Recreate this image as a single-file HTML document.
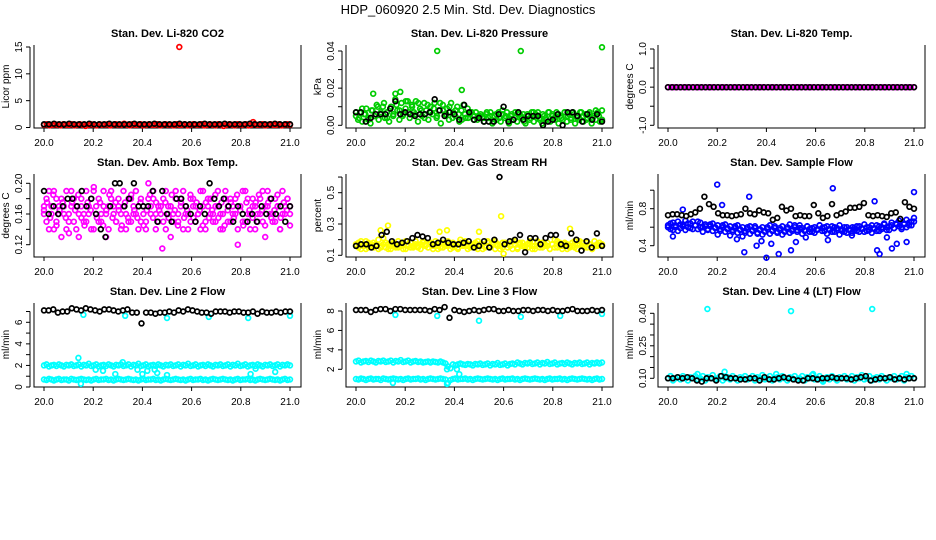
<!DOCTYPE html>
<html><head><meta charset="utf-8"><style>
html,body{margin:0;padding:0;background:#fff;}
svg{display:block;font-family:"Liberation Sans",sans-serif;}
</style></head><body>
<svg id="chart" width="936" height="540" viewBox="0 0 936 540" xmlns="http://www.w3.org/2000/svg">
<text x="468" y="14" text-anchor="middle" font-size="13">HDP_060920  2.5 Min. Std. Dev. Diagnostics</text>
</svg>
<script>
// ---- data ----
const xTickLabels = ["20.0","20.2","20.4","20.6","20.8","21.0"];
const xTicks = [20.0,20.2,20.4,20.6,20.8,21.0];
const panelTitles = ["Stan. Dev. Li-820 CO2","Stan. Dev. Li-820 Pressure","Stan. Dev. Li-820 Temp.","Stan. Dev. Amb. Box Temp.","Stan. Dev. Gas Stream RH","Stan. Dev. Sample Flow","Stan. Dev. Line 2 Flow","Stan. Dev. Line 3 Flow","Stan. Dev. Line 4 (LT) Flow"];
const yLabels = ["Licor ppm","kPa","degrees C","degrees C","percent","ml/min","ml/min","ml/min","ml/min"];
const yTicks = [[0,5,10,15],[0,0.01,0.02,0.03,0.04],[-1,-0.5,0,0.5,1],[0.12,0.14,0.16,0.18,0.20],[0.1,0.2,0.3,0.4,0.5,0.6],[0.4,0.6,0.8,1.0],[0,1,2,3,4,5,6,7],[2,4,6,8],[0.10,0.15,0.20,0.25,0.30,0.35,0.40]];
const yTickLabels = [["0","5","10","15"],["0.00","","0.02","","0.04"],["-1.0","","0.0","","1.0"],["0.12","","0.16","","0.20"],["0.1","","0.3","","0.5",""],["0.4","","0.8",""],["0","","2","","4","","6",""],["2","4","6","8"],["0.10","","","0.25","","","0.40"]];

const co2Red = [0.5,0.6,0.4,0.5,0.6,0.5,0.4,0.6,0.5,0.5,0.6,0.4,0.5,0.6,0.5,0.3,0.5,0.6,0.5,0.4,0.6,0.5,0.5,0.6,0.4,0.5,0.6,0.5,0.5,0.7,0.5,0.4,0.6,0.5,0.5,0.6,0.4,0.5,0.6,0.5,0.5,0.6,0.4,0.5,0.6,0.5,0.5,0.4,0.6,0.5,0.5,0.6,0.4,0.5,0.6,0.5,0.5,0.6,0.4,0.5,0.6,0.5,0.4,0.6,0.5,0.3,0.5,0.6,0.5,0.4,0.6,0.5,0.5,0.6,0.4,0.5,0.6,0.5,0.5,0.6,0.4,0.5,0.6,0.5,0.5,0.6,0.4,0.5,0.6,0.5];
const co2Black = [0.6,0.6,0.7,0.6,0.6,0.7,0.6,0.6,0.6,0.7,0.6,0.6,0.6,0.7,0.6,0.6,0.6,0.6,0.7,0.6,0.6,0.6,0.7,0.6,0.6,0.6,0.6,0.7,0.6,0.6,0.6,0.6,0.7,0.6,0.6,0.6,0.7,0.6,0.6,0.6,0.6,0.7,0.6,0.6,0.6,0.6,0.7,0.6,0.6,0.6];
const co2OutX = [20.55,20.85];
const co2OutY = [15.0,1.0];

const presGreen = [0.005,0.003,0.007,0.002,0.006,0.009,0.004,0.001,0.008,0.005,0.011,0.003,0.006,0.010,0.004,0.007,0.002,0.010,0.005,0.014,0.008,0.003,0.012,0.006,0.009,0.013,0.004,0.011,0.007,0.013,0.002,0.009,0.005,0.012,0.008,0.003,0.010,0.006,0.012,0.004,0.008,0.001,0.011,0.006,0.009,0.003,0.012,0.007,0.005,0.010,0.002,0.008,0.011,0.004,0.009,0.006,0.007,0.003,0.007,0.005,0.005,0.004,0.002,0.006,0.004,0.007,0.001,0.005,0.003,0.007,0.002,0.006,0.004,0.007,0.001,0.005,0.003,0.007,0.002,0.006,0.004,0.006,0.001,0.005,0.003,0.007,0.002,0.006,0.007,0.004,0.001,0.005,0.003,0.007,0.002,0.006,0.004,0.007,0.001,0.005,0.003,0.007,0.002,0.006,0.004,0.007,0.001,0.005,0.003,0.007,0.002,0.006,0.004,0.007,0.001,0.005,0.003,0.007,0.002,0.008];
const presGreen2 = [0.007,0.004,0.009,0.006,0.003,0.008,0.005,0.010,0.007,0.012,0.004,0.009,0.006,0.011,0.008,0.005,0.013,0.007,0.010,0.006,0.012,0.008,0.004,0.011,0.007,0.009,0.005,0.012,0.008,0.006,0.010,0.004,0.008,0.006,0.003,0.006,0.004,0.007,0.005,0.003,0.006,0.004,0.007,0.005,0.002,0.006,0.004,0.008,0.005,0.003,0.006,0.004,0.007,0.005,0.002,0.006,0.004,0.007,0.005,0.003,0.006,0.004,0.007,0.005,0.003,0.006,0.004,0.007,0.005,0.003,0.006,0.004,0.007,0.005,0.003,0.006,0.004,0.008,0.005,0.003];
const presBlack = [0.007,0.007,0.002,0.004,0.006,0.006,0.006,0.009,0.013,0.006,0.007,0.006,0.005,0.006,0.006,0.007,0.014,0.008,0.005,0.007,0.006,0.003,0.011,0.007,0.003,0.004,0.002,0.002,0.002,0.006,0.010,0.002,0.003,0.007,0.003,0.005,0.005,0.005,0.000,0.002,0.003,0.006,0.000,0.007,0.007,0.005,0.002,0.006,0.003,0.006,0.002];
const presOutX = [20.33,20.67,21.0,20.07,20.43,20.16,20.18];
const presOutY = [0.040,0.040,0.042,0.017,0.019,0.017,0.018];

const tempMagenta = [0,0,0,0,0,0,0,0,0,0,0,0,0,0,0,0,0,0,0,0,0,0,0,0,0,0,0,0,0,0,0,0,0,0,0,0,0,0,0,0,0,0,0,0,0,0,0,0,0,0,0,0,0,0,0,0,0,0,0,0,0,0,0,0,0,0,0,0,0,0,0,0,0,0,0,0,0,0,0,0];
const tempBlack = [0,0,0,0,0,0,0,0,0,0,0,0,0,0,0,0,0,0,0,0,0,0,0,0,0,0,0,0,0,0,0,0,0,0,0,0,0,0,0,0,0,0,0,0,0,0,0,0,0,0,0,0,0,0,0,0,0,0,0,0];

const ambMagA = [0.17,0.15,0.19,0.16,0.14,0.18,0.17,0.13,0.16,0.19,0.15,0.17,0.18,0.14,0.16,0.17,0.15,0.19,0.16,0.18,0.14,0.17,0.15,0.16,0.19,0.13,0.17,0.18,0.16,0.15,0.17,0.14,0.19,0.16,0.18,0.15,0.17,0.16,0.14,0.18,0.17,0.15,0.20,0.16,0.18,0.14,0.17,0.16,0.15,0.19,0.17,0.13,0.16,0.18,0.15,0.17,0.19,0.16,0.14,0.18,0.17,0.15,0.16,0.19,0.17,0.14,0.18,0.16,0.15,0.17,0.19,0.16,0.14,0.18,0.17,0.15,0.16,0.18,0.12,0.17,0.15,0.19,0.16,0.14,0.18,0.17,0.15,0.16,0.19,0.13,0.17,0.18,0.16,0.15,0.17,0.14,0.19,0.16,0.18,0.17];
const ambMagB = [0.16,0.18,0.14,0.17,0.19,0.15,0.16,0.18,0.17,0.14,0.16,0.19,0.15,0.17,0.13,0.18,0.16,0.15,0.17,0.14,0.19,0.16,0.18,0.15,0.17,0.16,0.14,0.19,0.17,0.15,0.18,0.16,0.17,0.14,0.15,0.18,0.16,0.19,0.17,0.15,0.16,0.14,0.18,0.17,0.19,0.16,0.15,0.17,0.18,0.14,0.16,0.17,0.15,0.19,0.16,0.18,0.14,0.17,0.16,0.15,0.18,0.17,0.16,0.14,0.19,0.15,0.17,0.18,0.16,0.15,0.17,0.14,0.16,0.19,0.15,0.18,0.17,0.16,0.14,0.17,0.19,0.15,0.18,0.16,0.17,0.14,0.16,0.18,0.15,0.17,0.19,0.16,0.15,0.18,0.17,0.14,0.16,0.17,0.18,0.16];
const ambMagC = [0.165,0.175,0.155,0.185,0.145,0.165,0.175,0.155,0.135,0.175,0.165,0.185,0.155,0.145,0.175,0.165,0.195,0.155,0.175,0.145,0.165,0.185,0.155,0.175,0.165,0.145,0.175,0.155,0.185,0.165,0.155,0.175,0.145,0.165,0.185,0.155,0.175,0.165,0.115,0.175,0.155,0.185,0.165,0.145,0.175,0.155,0.165,0.185,0.155,0.175,0.165,0.145,0.175,0.155,0.165,0.185,0.155,0.175,0.145,0.165,0.175,0.155,0.185,0.165,0.145,0.175,0.165,0.155,0.175,0.185,0.165,0.145,0.175,0.155,0.165,0.185,0.155,0.175,0.165,0.145];
const ambBlack = [0.19,0.16,0.17,0.16,0.17,0.18,0.18,0.17,0.19,0.17,0.18,0.16,0.14,0.13,0.17,0.20,0.20,0.17,0.18,0.20,0.17,0.17,0.17,0.19,0.15,0.19,0.16,0.15,0.18,0.18,0.17,0.16,0.15,0.17,0.16,0.20,0.18,0.17,0.18,0.17,0.15,0.17,0.16,0.15,0.16,0.15,0.17,0.16,0.18,0.16,0.17,0.15,0.17];

const rhYelA = [0.17,0.15,0.19,0.16,0.14,0.18,0.17,0.15,0.16,0.20,0.15,0.17,0.18,0.14,0.16,0.17,0.15,0.19,0.16,0.18,0.14,0.17,0.15,0.16,0.19,0.15,0.17,0.18,0.16,0.15,0.17,0.14,0.19,0.16,0.18,0.15,0.17,0.16,0.14,0.18,0.17,0.15,0.20,0.16,0.18,0.14,0.17,0.16,0.15,0.19,0.17,0.14,0.16,0.18,0.15,0.17,0.19,0.16,0.14,0.18,0.17,0.15,0.16,0.19,0.17,0.14,0.18,0.16,0.15,0.17,0.19,0.16,0.14,0.18,0.17,0.15,0.16,0.18,0.14,0.17,0.15,0.19,0.16,0.14,0.18,0.17,0.15,0.16,0.19,0.14,0.17,0.18,0.16,0.15,0.17,0.14,0.19,0.16,0.18,0.17];
const rhYelB = [0.16,0.18,0.14,0.17,0.19,0.15,0.16,0.18,0.17,0.14,0.16,0.21,0.15,0.17,0.14,0.18,0.16,0.15,0.17,0.14,0.19,0.16,0.18,0.15,0.17,0.16,0.14,0.19,0.17,0.15,0.18,0.16,0.17,0.14,0.15,0.18,0.16,0.19,0.17,0.15,0.16,0.14,0.18,0.17,0.19,0.16,0.15,0.17,0.18,0.14,0.16,0.17,0.15,0.19,0.16,0.18,0.14,0.17,0.16,0.15,0.18,0.17,0.16,0.14,0.19,0.15,0.17,0.18,0.16,0.15,0.17,0.14,0.16,0.19,0.15,0.18,0.17,0.16,0.14,0.17,0.20,0.15,0.18,0.16,0.17,0.14,0.16,0.18,0.15,0.17,0.19,0.16,0.15,0.18,0.17,0.14,0.16,0.17,0.18,0.16];
const rhBlack = [0.16,0.17,0.17,0.15,0.16,0.23,0.25,0.19,0.17,0.18,0.19,0.21,0.23,0.22,0.21,0.17,0.18,0.20,0.18,0.17,0.17,0.18,0.19,0.15,0.16,0.19,0.15,0.20,0.60,0.17,0.19,0.20,0.23,0.12,0.21,0.21,0.17,0.21,0.23,0.23,0.17,0.16,0.24,0.20,0.13,0.19,0.15,0.24,0.16];
const rhOutX = [20.59,20.13,20.10,20.37,20.87,20.60,20.34,20.50];
const rhOutY = [0.35,0.29,0.26,0.26,0.27,0.11,0.25,0.25];

const flowBlueA = [0.62,0.58,0.65,0.60,0.56,0.63,0.61,0.57,0.64,0.59,0.66,0.62,0.58,0.65,0.60,0.63,0.57,0.61,0.64,0.59,0.62,0.56,0.60,0.63,0.58,0.61,0.55,0.59,0.62,0.57,0.60,0.54,0.58,0.61,0.56,0.59,0.53,0.57,0.60,0.55,0.58,0.62,0.56,0.59,0.54,0.57,0.61,0.55,0.58,0.63,0.56,0.60,0.57,0.62,0.59,0.56,0.61,0.58,0.55,0.60,0.57,0.62,0.59,0.56,0.61,0.58,0.55,0.60,0.57,0.62,0.58,0.55,0.60,0.57,0.54,0.59,0.56,0.61,0.58,0.55,0.60,0.57,0.62,0.59,0.56,0.61,0.58,0.63,0.60,0.57,0.62,0.59,0.64,0.61,0.58,0.63,0.60,0.65,0.62,0.66];
const flowBlueB = [0.60,0.64,0.57,0.62,0.66,0.59,0.63,0.67,0.60,0.64,0.58,0.62,0.66,0.60,0.55,0.61,0.58,0.63,0.56,0.60,0.52,0.58,0.62,0.55,0.59,0.51,0.57,0.61,0.54,0.58,0.50,0.56,0.60,0.53,0.57,0.61,0.54,0.58,0.52,0.56,0.60,0.53,0.57,0.61,0.55,0.59,0.52,0.56,0.60,0.54,0.58,0.62,0.55,0.59,0.53,0.57,0.61,0.55,0.59,0.54,0.58,0.62,0.56,0.60,0.53,0.57,0.61,0.55,0.59,0.52,0.56,0.60,0.54,0.58,0.51,0.57,0.61,0.55,0.59,0.63,0.56,0.60,0.54,0.58,0.62,0.56,0.60,0.64,0.57,0.61,0.65,0.59,0.63,0.67,0.60,0.64,0.68,0.62,0.66,0.70];
const flowOutX = [20.20,20.33,20.67,20.84,21.0,20.22,20.31,20.40,20.45,20.50,20.36,20.42,20.52,20.85,20.86,20.91,20.06,20.02,20.97,20.89,20.56,20.65,20.75,20.93,20.28,20.38];
const flowOutY = [1.06,0.93,1.02,0.88,0.98,0.84,0.33,0.27,0.31,0.35,0.40,0.42,0.44,0.35,0.31,0.37,0.79,0.50,0.44,0.49,0.49,0.46,0.60,0.42,0.47,0.45];
const flowBlack = [0.73,0.74,0.74,0.73,0.72,0.74,0.76,0.80,0.93,0.85,0.82,0.75,0.73,0.73,0.72,0.73,0.74,0.80,0.75,0.74,0.78,0.76,0.75,0.68,0.70,0.82,0.78,0.80,0.72,0.73,0.72,0.72,0.84,0.75,0.70,0.72,0.85,0.73,0.75,0.77,0.81,0.81,0.82,0.86,0.73,0.72,0.73,0.72,0.71,0.75,0.76,0.69,0.87,0.82,0.80];

const l2CyanHi = [2.0,2.1,1.9,2.0,2.05,1.95,2.1,2.0,1.9,2.05,2.0,2.1,1.95,2.0,2.1,1.9,2.05,2.0,2.15,1.95,2.0,2.1,1.9,2.0,2.05,1.95,2.1,2.0,1.9,2.05,2.0,2.1,1.95,2.0,2.1,1.9,2.05,2.0,2.15,1.95,2.0,2.1,1.9,2.0,2.05,1.95,2.1,2.0,1.9,2.05,2.0,2.1,1.95,2.0,2.1,1.9,2.05,2.0,2.15,1.95,2.0,2.1,1.9,2.0,2.05,1.95,2.1,2.0,1.9,2.05,2.0,2.1,1.95,2.0,2.1,1.9,2.05,2.0,2.15,1.95,2.0,2.1,1.9,2.0,2.05,1.95,2.1,2.0,1.9,2.05,2.0,2.1,1.95,2.0,2.1,1.9,2.05,2.0,2.1,2.0];
const l2CyanLo = [0.7,0.65,0.75,0.7,0.6,0.7,0.75,0.65,0.7,0.7,0.6,0.75,0.7,0.65,0.7,0.75,0.7,0.65,0.7,0.6,0.7,0.75,0.65,0.7,0.7,0.75,0.65,0.7,0.6,0.7,0.75,0.7,0.65,0.7,0.75,0.7,0.65,0.7,0.6,0.7,0.75,0.65,0.7,0.7,0.75,0.65,0.7,0.6,0.7,0.75,0.7,0.65,0.7,0.75,0.7,0.65,0.7,0.6,0.7,0.75,0.65,0.7,0.7,0.75,0.65,0.7,0.6,0.7,0.75,0.7,0.65,0.7,0.75,0.7,0.65,0.7,0.6,0.7,0.75,0.65,0.7,0.7,0.75,0.65,0.7,0.6,0.7,0.75,0.7,0.65,0.7,0.75,0.7,0.65,0.7,0.6,0.7,0.75,0.65,0.7];
const l2CyanOutX = [20.16,20.33,20.50,20.67,20.83,21.0,20.14,20.21,20.24,20.29,20.32,20.38,20.42,20.45,20.46,20.84,20.86,20.94,20.40,20.50,20.15];
const l2CyanOutY = [6.7,6.6,6.4,6.5,6.4,6.6,2.7,1.6,1.5,1.2,2.3,1.6,1.5,1.6,1.3,1.2,1.7,1.4,1.2,1.1,0.3];
const l2Black = [7.1,7.1,7.2,6.9,7.0,7.0,7.3,7.2,7.1,7.3,7.2,7.1,7.0,7.2,7.2,7.1,7.0,7.1,7.2,6.9,6.9,5.9,6.9,6.9,6.8,6.9,6.9,7.0,6.9,7.1,7.0,7.2,7.1,7.0,6.9,6.9,6.8,7.0,7.0,7.0,6.9,7.0,7.0,6.9,6.9,7.0,6.8,7.0,6.9,6.9,7.0,6.9,7.0,7.0];

const l3CyanHi = [2.8,2.9,2.7,2.8,2.85,2.75,2.9,2.8,2.7,2.85,2.8,2.9,2.75,2.8,2.9,2.7,2.85,2.8,2.95,2.75,2.8,2.9,2.7,2.8,2.85,2.75,2.8,2.7,2.75,2.8,2.7,2.8,2.75,2.7,2.8,2.7,2.6,2.3,2.1,2.5,2.4,2.5,2.6,2.5,2.45,2.55,2.5,2.4,2.55,2.5,2.6,2.45,2.5,2.6,2.4,2.55,2.5,2.65,2.45,2.5,2.6,2.4,2.55,2.6,2.5,2.7,2.6,2.5,2.65,2.6,2.7,2.55,2.6,2.7,2.5,2.65,2.6,2.75,2.55,2.6,2.7,2.5,2.6,2.65,2.55,2.7,2.6,2.5,2.65,2.6,2.7,2.55,2.6,2.7,2.5,2.65,2.6,2.7,2.6,2.7];
const l3CyanLo = [1.0,0.95,1.05,1.0,0.9,1.0,1.05,0.95,1.0,1.0,0.9,1.05,1.0,0.95,1.0,1.05,1.0,0.95,1.0,0.9,1.0,1.05,0.95,1.0,1.0,1.05,0.95,1.0,0.9,1.0,1.05,1.0,0.95,1.0,1.05,1.0,0.95,0.6,0.9,1.0,1.05,0.95,1.0,1.0,1.05,0.95,1.0,0.9,1.0,1.05,1.0,0.95,1.0,1.05,1.0,0.95,1.0,0.9,1.0,1.05,0.95,1.0,1.0,1.05,0.95,1.0,0.9,1.0,1.05,1.0,0.95,1.0,1.05,1.0,0.95,1.0,0.9,1.0,1.05,0.95,1.0,1.0,1.05,0.95,1.0,0.9,1.0,1.05,1.0,0.95,1.0,1.05,1.0,0.95,1.0,0.9,1.0,1.05,0.95,1.0];
const l3CyanOutX = [20.16,20.33,20.50,20.67,20.83,21.0,20.37,20.41,20.42,20.15,20.37];
const l3CyanOutY = [7.6,7.5,7.0,7.4,7.5,7.7,2.0,2.0,1.5,0.6,0.5];
const l3Black = [8.1,8.1,8.1,7.9,8.1,8.2,8.2,8.0,8.2,8.2,8.1,8.1,8.1,8.1,8.1,8.0,8.2,8.1,8.4,7.3,8.1,8.0,7.9,8.0,8.1,8.0,8.1,8.2,8.2,8.0,8.0,8.1,8.0,8.0,8.1,8.1,8.0,8.1,8.1,8.0,8.1,8.0,8.0,8.1,8.2,8.0,8.0,8.0,8.1,8.0,8.1];

const l4Cyan = [0.10,0.11,0.09,0.10,0.105,0.095,0.11,0.10,0.09,0.105,0.10,0.11,0.095,0.10,0.11,0.09,0.105,0.10,0.115,0.095,0.10,0.11,0.09,0.10,0.105,0.095,0.11,0.10,0.09,0.105,0.10,0.11,0.095,0.10,0.11,0.09,0.105,0.10,0.115,0.095,0.10,0.11,0.09,0.10,0.105,0.095,0.11,0.10,0.09,0.105,0.10,0.11,0.095,0.10,0.11,0.09,0.105,0.10,0.115,0.095,0.10,0.11,0.09,0.10,0.105,0.095,0.11,0.10,0.09,0.105,0.10,0.11,0.095,0.10,0.11,0.09,0.105,0.10,0.115,0.095,0.10,0.11,0.09,0.10,0.105,0.095,0.11,0.10,0.09,0.105,0.10,0.11,0.095,0.10,0.11,0.09,0.105,0.10,0.11,0.10];
const l4CyanOutX = [20.16,20.50,20.83,20.23,20.12,20.44,20.59,20.63,20.97];
const l4CyanOutY = [0.42,0.41,0.42,0.13,0.12,0.12,0.12,0.085,0.12];
const l4Black = [0.10,0.10,0.105,0.10,0.105,0.10,0.09,0.085,0.10,0.10,0.09,0.11,0.105,0.10,0.10,0.095,0.095,0.10,0.10,0.09,0.105,0.095,0.095,0.10,0.105,0.10,0.095,0.09,0.09,0.10,0.10,0.095,0.10,0.10,0.105,0.10,0.10,0.10,0.095,0.10,0.105,0.11,0.09,0.095,0.10,0.10,0.105,0.095,0.10,0.095,0.10,0.10];

// ---- layout ----
const svg = document.getElementById('chart');
const NS = 'http://www.w3.org/2000/svg';
const colL = [34,346,658], rowT = [45,174,303], W = 267, H = 83;
const yRef = [[0,127.5,15,47],[0,125.3,0.04,51],[-1,125.3,1,49],[0.12,244.7,0.20,183.3],[0.1,255.3,0.5,192.7],[0.4,245.7,0.8,208.7],[0,387,6,322.3],[2,369.3,8,311],[0.10,378.3,0.40,313.3]];
function mk(tag, attrs, parent){const e=document.createElementNS(NS,tag);for(const k in attrs)e.setAttribute(k,attrs[k]);(parent||svg).appendChild(e);return e;}
function xS(p,v){return colL[p%3]+10+(v-20)*246;}
function yS(p,v){const r=yRef[p];return r[1]+(v-r[0])*(r[3]-r[1])/(r[2]-r[0]);}
function evenX(n){const a=[];for(let i=0;i<n;i++)a.push(20+i/(n-1));return a;}
function scatter(p,xs,ys,color,name,g){
  for(let i=0;i<ys.length;i++){
    const c=mk('circle',{cx:xS(p,xs[i]).toFixed(1),cy:yS(p,ys[i]).toFixed(1),r:2.4,fill:'none',stroke:color,'stroke-width':1.7},g);
    
    
  }
}
for(let p=0;p<9;p++){
  const L=colL[p%3], T=rowT[Math.floor(p/3)], B=T+H+(p>5?1:0);
  const g=mk('g',{});
  
  
  const t=mk('text',{x:L+W/2,y:T-8,'text-anchor':'middle','font-size':11,'font-weight':'bold'},g);
  t.textContent=panelTitles[p];
  
  
  const fr=mk('path',{d:`M${L},${T} L${L},${B} L${L+W},${B} L${L+W},${T}`,fill:'none',stroke:'#000','stroke-width':1},g);
  
  
  for(let i=0;i<xTicks.length;i++){
    const x=xS(p,xTicks[i]);
    mk('line',{x1:x,y1:B,x2:x,y2:B+4,stroke:'#000'},g);
    const tl=mk('text',{x:x,y:B+18,'text-anchor':'middle','font-size':10},g);
    tl.textContent=xTickLabels[i];
    
    
  }
  const tk=yTicks[p];
  mk('line',{x1:L-4,y1:yS(p,tk[0]),x2:L-4,y2:yS(p,tk[tk.length-1]),stroke:'#000'},g);
  for(let i=0;i<tk.length;i++){
    const y=yS(p,tk[i]);
    mk('line',{x1:L-8,y1:y,x2:L-4,y2:y,stroke:'#000'},g);
    if(yTickLabels[p][i]){
      const yl=mk('text',{x:0,y:0,'text-anchor':'middle','font-size':10,transform:`translate(${L-12},${y}) rotate(-90)`},g);
      yl.textContent=yTickLabels[p][i];
      
      
    }
  }
  const ya=mk('text',{x:0,y:0,'text-anchor':'middle','font-size':10,transform:`translate(${L-25},${T+H/2}) rotate(-90)`},g);
  ya.textContent=yLabels[p];
  
  
}
// ---- series ----
scatter(0,evenX(co2Red.length),co2Red,'#ff0000','co2-point');
scatter(0,co2OutX,co2OutY,'#ff0000','co2-outlier');
scatter(0,evenX(co2Black.length),co2Black,'#000','co2-black-point');
scatter(1,evenX(presGreen.length),presGreen,'#00cc00','pressure-point');
scatter(1,evenX(presGreen2.length),presGreen2,'#00cc00','pressure-point');
scatter(1,presOutX,presOutY,'#00cc00','pressure-outlier');
scatter(1,evenX(presBlack.length),presBlack,'#000','pressure-black-point');
scatter(2,evenX(tempMagenta.length),tempMagenta,'#ff00ff','temp-point');
scatter(2,evenX(tempBlack.length),tempBlack,'#000','temp-black-point');
scatter(3,evenX(ambMagA.length),ambMagA,'#ff00ff','amb-temp-point');
scatter(3,evenX(ambMagB.length),ambMagB,'#ff00ff','amb-temp-point');
scatter(3,evenX(ambMagC.length),ambMagC,'#ff00ff','amb-temp-point');
scatter(3,evenX(ambBlack.length),ambBlack,'#000','amb-temp-black-point');
scatter(4,evenX(rhYelA.length),rhYelA,'#ffff00','rh-point');
scatter(4,evenX(rhYelB.length),rhYelB,'#ffff00','rh-point');
scatter(4,rhOutX,rhOutY,'#ffff00','rh-outlier');
scatter(4,evenX(rhBlack.length),rhBlack,'#000','rh-black-point');
scatter(5,evenX(flowBlueA.length),flowBlueA,'#0000ff','sample-flow-point');
scatter(5,evenX(flowBlueB.length),flowBlueB,'#0000ff','sample-flow-point');
scatter(5,flowOutX,flowOutY,'#0000ff','sample-flow-outlier');
scatter(5,evenX(flowBlack.length),flowBlack,'#000','sample-flow-black-point');
scatter(6,evenX(l2CyanHi.length),l2CyanHi,'#00ffff','line2-point');
scatter(6,evenX(l2CyanLo.length),l2CyanLo,'#00ffff','line2-point');
scatter(6,l2CyanOutX,l2CyanOutY,'#00ffff','line2-outlier');
scatter(6,evenX(l2Black.length),l2Black,'#000','line2-black-point');
scatter(7,evenX(l3CyanHi.length),l3CyanHi,'#00ffff','line3-point');
scatter(7,evenX(l3CyanLo.length),l3CyanLo,'#00ffff','line3-point');
scatter(7,l3CyanOutX,l3CyanOutY,'#00ffff','line3-outlier');
scatter(7,evenX(l3Black.length),l3Black,'#000','line3-black-point');
scatter(8,evenX(l4Cyan.length),l4Cyan,'#00ffff','line4-point');
scatter(8,l4CyanOutX,l4CyanOutY,'#00ffff','line4-outlier');
scatter(8,evenX(l4Black.length),l4Black,'#000','line4-black-point');
</script>
</body></html>
